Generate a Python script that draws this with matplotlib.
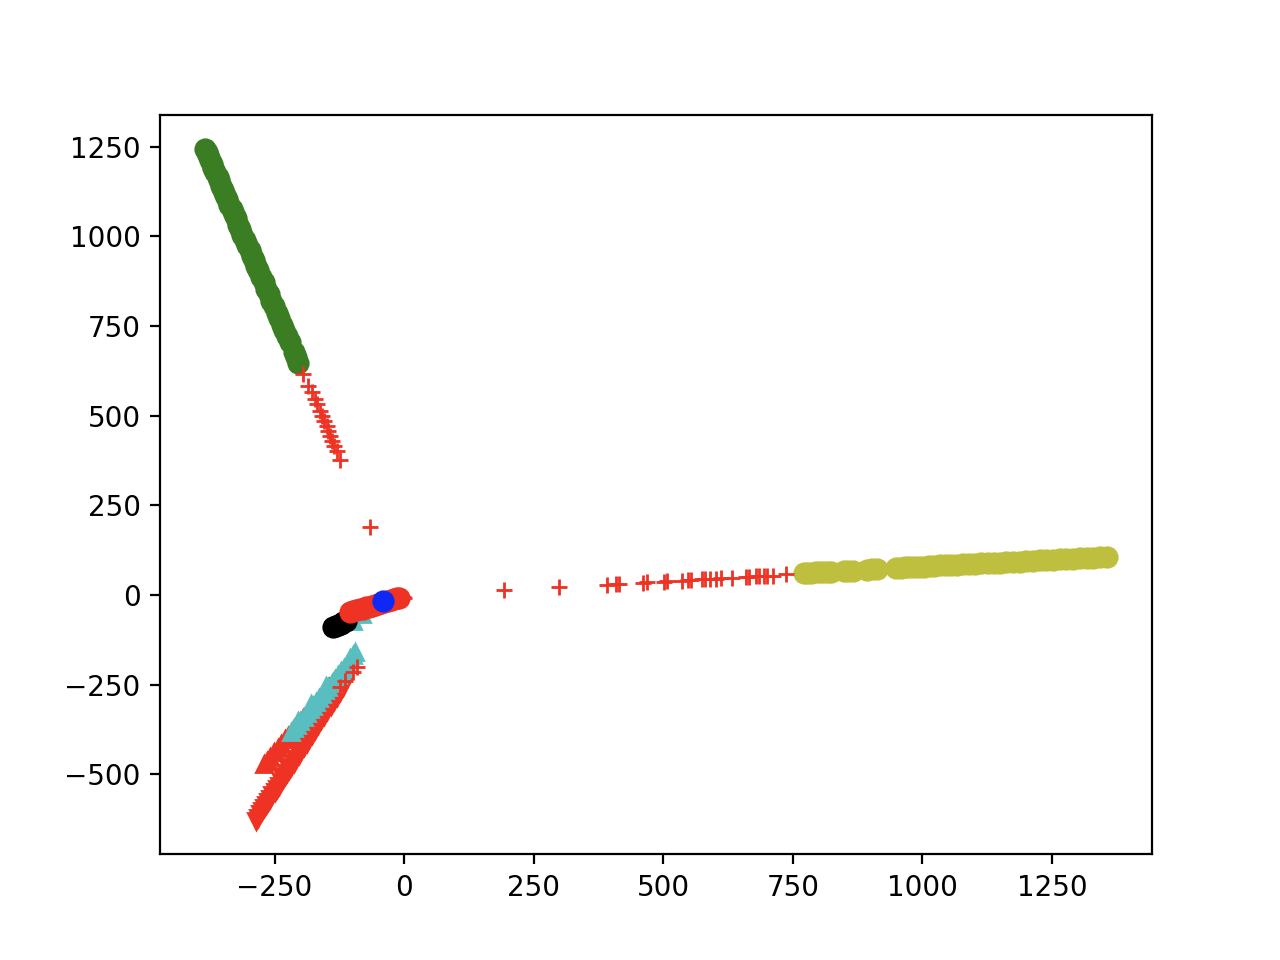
import matplotlib
matplotlib.use("Agg")
import matplotlib.pyplot as plt

# colours
C_GREEN = "#3a7d22"
C_YELLOW = "#bfbf3f"
C_RED = "#ee3224"
C_CYAN = "#59bebf"
C_BLUE = "#1028f5"
C_BLACK = "#000000"

# green circles
green_x = [-384, -381, -378, -375, -371, -368, -364, -360, -357, -353, -349, -345,
           -341, -337, -333, -329, -325, -320, -316, -312, -307, -303, -298, -294,
           -290, -285, -281, -276, -271, -266, -261, -256, -251, -246, -241, -236,
           -231, -226, -221, -212, -208, -204]
green_y = [1244, 1234, 1226, 1214, 1203, 1191, 1180, 1164, 1157, 1141, 1130, 1115,
           1104, 1088, 1077, 1062, 1051, 1032, 1021, 1005, 991, 976, 961, 946,
           935, 916, 905, 886, 872, 853, 838, 820, 805, 787, 772, 754,
           739, 721, 706, 676, 664, 648]

# yellow circles
yellow_x = [771, 778, 786, 794, 802, 810, 818, 824, 848, 856, 866, 893, 902, 912,
            950, 958, 966, 975, 984, 993, 1003, 1013, 1023, 1034, 1045, 1056, 1067,
            1078, 1090, 1102, 1114, 1126, 1138, 1150, 1162, 1175, 1188, 1200, 1213,
            1226, 1239, 1252, 1265, 1278, 1291, 1304, 1317, 1330, 1343, 1356]
yellow_y = [61, 62, 62, 63, 63, 64, 65, 65, 67, 67, 68, 70, 71, 72,
            75, 76, 77, 77, 78, 79, 79, 80, 81, 82, 83, 83, 84,
            85, 86, 87, 88, 89, 90, 90, 91, 92, 93, 94, 95,
            96, 97, 98, 99, 100, 101, 102, 103, 104, 105, 106]

# red down triangles
redv_x = [-286, -282, -278, -274, -270, -266, -262, -258, -254, -250, -246, -242,
          -238, -234, -230, -226, -222, -218, -213, -208, -203, -198, -193, -188,
          -183, -178, -172, -166, -160, -154, -148, -142, -136, -130, -124, -118]
redv_y = [-630, -621, -612, -603, -594, -586, -577, -568, -559, -550, -541, -532,
          -523, -514, -506, -497, -488, -479, -468, -457, -446, -435, -424, -413,
          -402, -390, -377, -364, -350, -337, -324, -310, -297, -284, -270, -257]

# red up triangles
redu_x = [-270, -264, -258, -251, -244, -237, -230, -224, -215, -205, -195, -185,
          -175, -165, -155, -145, -135]
redu_y = [-472, -462, -451, -439, -427, -415, -403, -393, -377, -360, -343, -326,
          -309, -291, -274, -257, -240]

# cyan up triangles
cyan_x = [-218, -212, -206, -205, -200, -194, -188, -182, -180, -176, -170, -164,
          -158, -152, -150, -146, -140, -134, -128, -122, -116, -110, -104, -99,
          -95, -98, -82]
cyan_y = [-383, -372, -362, -352, -351, -341, -330, -319, -305, -309, -298, -287,
          -277, -266, -255, -256, -245, -234, -224, -213, -203, -192, -175, -168,
          -160, -72, -52]

# black circles
black_x = [-137, -132, -127, -122, -117, -112]
black_y = [-89, -86, -83, -80, -77, -74]

# red circles
redo_x = [-104, -98, -92, -86, -80, -74, -68, -62, -56, -50, -44, -38, -32, -26,
          -20, -14, -10]
redo_y = [-48, -45, -43, -40, -38, -35, -33, -30, -27, -25, -22, -20, -17, -14,
          -12, -9, -8]

# red plus markers
plus_x = [-195, -185, -178, -172, -168, -162, -158, -155, -149, -147, -143, -139,
          -135, -129, -124, -66,
          193, 298, 392, 408, 414, 460, 469, 501, 508, 537, 547, 554, 575, 581,
          591, 601, 611, 633, 659, 665, 678, 684, 694, 701, 711, 736,
          -124, -114, -98, -90, -3, -8, -12, 0]
plus_y = [615, 582, 565, 545, 531, 512, 498, 484, 470, 456, 442, 428,
          414, 400, 377, 190,
          14, 22, 28, 30, 31, 34, 35, 37, 38, 40, 41, 41, 43, 44,
          44, 45, 46, 48, 50, 50, 52, 52, 53, 53, 54, 57,
          -258, -240, -215, -200, -5, -3, -10, -8]

# blue circle
blue_x = [-41]
blue_y = [-17]

fig = plt.figure(figsize=(6.4, 4.8), dpi=200)
ax = fig.add_subplot(111)

MS_CIRCLE = 7
ax.plot(green_x, green_y, linestyle="none", marker="o", ms=MS_CIRCLE, color=C_GREEN)
ax.plot(yellow_x, yellow_y, linestyle="none", marker="o", ms=MS_CIRCLE, color=C_YELLOW)
ax.plot(redv_x, redv_y, linestyle="none", marker="v", color=C_RED)
ax.plot(redu_x, redu_y, linestyle="none", marker="^", color=C_RED)
ax.plot(cyan_x, cyan_y, linestyle="none", marker="^", color=C_CYAN)
ax.plot(black_x, black_y, linestyle="none", marker="o", ms=MS_CIRCLE, color=C_BLACK)
ax.plot(redo_x, redo_y, linestyle="none", marker="o", ms=MS_CIRCLE, color=C_RED)
ax.plot(plus_x, plus_y, linestyle="none", marker="+", color=C_RED)
ax.plot(blue_x, blue_y, linestyle="none", marker="o", ms=MS_CIRCLE, color=C_BLUE)

fig.savefig("out.png", dpi=200)
